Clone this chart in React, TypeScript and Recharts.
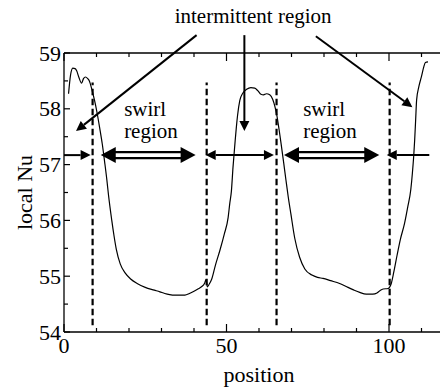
import React from 'react';
import { LineChart, Line, XAxis, YAxis, ReferenceLine, ReferenceDot } from 'recharts';

// Nusselt number profile along the wall
const position = [
  1.4, 2.0, 2.7, 3.4, 3.9, 4.6, 5.4, 6.0, 6.6, 7.3, 7.8, 8.6, 9.4, 10.2, 11.0, 11.8,
  12.5, 13.2, 13.7, 14.7, 15.4, 16.1, 17.3, 18.8, 20.5, 22.5, 25.0, 27.8, 29.5, 31.0,
  32.5, 34.0, 35.5, 37.2, 38.6, 40.0, 41.2, 42.3, 43.3, 43.7, 44.1, 44.7, 45.4, 46.6,
  48.0, 49.3, 50.5, 51.0, 51.5, 52.0, 52.6, 53.0, 53.4, 54.1, 55.0, 56.2, 57.5, 58.7,
  59.7, 60.6, 61.4, 62.3, 63.3, 64.2, 64.9, 65.5, 66.2, 66.9, 67.6, 68.3, 69.0, 69.8,
  71.0, 72.5, 74.1, 76.3, 78.0, 79.7, 82.0, 84.8, 87.0, 88.9, 91.0, 93.0, 95.0, 96.3,
  97.2, 98.2, 99.7, 100.7, 101.5, 102.5, 103.5, 104.8, 105.8, 106.7, 107.2, 107.6,
  107.9, 108.2, 108.5, 109.2, 110.0, 110.7, 111.2, 112.0,
];
const localNu = [
  58.27, 58.6, 58.73, 58.72, 58.68, 58.56, 58.46, 58.54, 58.57, 58.54, 58.5, 58.34, 58.15,
  57.92, 57.65, 57.36, 57.05, 56.72, 56.45, 56.0, 55.72, 55.48, 55.22, 55.06, 54.95, 54.87,
  54.8, 54.75, 54.72, 54.69, 54.67, 54.66, 54.66, 54.66, 54.69, 54.73, 54.77, 54.81, 54.88,
  54.94, 54.81, 54.86, 54.94, 55.2, 55.47, 55.75, 56.05, 56.3, 56.52, 56.95, 57.38, 57.65,
  57.88, 58.15, 58.28, 58.35, 58.38, 58.37, 58.32, 58.26, 58.25, 58.27, 58.25, 58.17, 58.04,
  57.88, 57.62, 57.33, 57.03, 56.72, 56.42, 56.12, 55.68, 55.34, 55.13, 55.02, 54.98, 54.96,
  54.92, 54.87, 54.81, 54.76, 54.71, 54.68, 54.68, 54.7, 54.74, 54.77, 54.78, 54.87, 55.08,
  55.38, 55.66, 55.95, 56.25, 56.55, 56.85, 57.15, 57.44, 57.8, 58.16, 58.4, 58.58, 58.75,
  58.83, 58.84,
];

const xTicks = [0, 10, 20, 30, 40, 50, 60, 70, 80, 90, 100, 110, 120];
const yTicks = [54, 54.5, 55, 55.5, 56, 56.5, 57, 57.5, 58, 58.5, 59];

// region boundaries (dashed) and the arrows drawn between them
const dividers = [8.8, 43.9, 65.4, 100.2];
const dividerSpan = [54.12, 58.47];
const arrowLevel = 57.17;
const thinArrows = [
  { from: 0, to: 8.2, both: false },
  { from: 43.6, to: 64.6, both: true },
  { from: 112.4, to: 99.3, both: false },
];
const swirlArrows = [
  [11.3, 40.5],
  [67.7, 97.0],
];
const pointers = [
  { from: [40.8, 59.32], to: [3.7, 57.6] },
  { from: [55.5, 59.32], to: [55.5, 57.6] },
  { from: [77.5, 59.3], to: [107.2, 58.03] },
];
const titleAt = [58.2, 59.54];
const swirlLabels = [18.5, 73.6];
const swirlRows = [57.87, 57.47];

const data = position.map((x, i) => ({ x, nu: localNu[i] }));

const FONT = "'Liberation Serif', 'Times New Roman', Times, serif";
const txt = { fontFamily: FONT };

function headPoints(tx: number, ty: number, ux: number, uy: number, len: number, half: number) {
  const bx = tx - ux * len;
  const by = ty - uy * len;
  return `${tx},${ty} ${bx - uy * half},${by + ux * half} ${bx + uy * half},${by - ux * half}`;
}

function unit(p: any) {
  const dx = p.x2 - p.x1;
  const dy = p.y2 - p.y1;
  const d = Math.hypot(dx, dy) || 1;
  return [dx / d, dy / d];
}

const makeThinArrow = (both: boolean) => (p: any) => {
  const [ux, uy] = unit(p);
  const len = 10;
  const sx = both ? p.x1 + ux * len : p.x1;
  const sy = both ? p.y1 + uy * len : p.y1;
  return (
    <g>
      <line x1={sx} y1={sy} x2={p.x2 - ux * len} y2={p.y2 - uy * len} stroke="#000" strokeWidth={2} />
      <polygon points={headPoints(p.x2, p.y2, ux, uy, len, 5)} fill="#000" />
      {both && <polygon points={headPoints(p.x1, p.y1, -ux, -uy, len, 5)} fill="#000" />}
    </g>
  );
};

const SwirlArrow = (p: any) => {
  const [ux, uy] = unit(p);
  const len = 15;
  const off = 3;
  const ax = p.x1 + ux * (len - 2);
  const ay = p.y1 + uy * (len - 2);
  const bx = p.x2 - ux * (len - 2);
  const by = p.y2 - uy * (len - 2);
  return (
    <g>
      <line x1={ax - uy * off} y1={ay + ux * off} x2={bx - uy * off} y2={by + ux * off} stroke="#000" strokeWidth={2.3} />
      <line x1={ax + uy * off} y1={ay - ux * off} x2={bx + uy * off} y2={by - ux * off} stroke="#000" strokeWidth={2.3} />
      <polygon points={headPoints(p.x2, p.y2, ux, uy, len, 8)} fill="#000" />
      <polygon points={headPoints(p.x1, p.y1, -ux, -uy, len, 8)} fill="#000" />
    </g>
  );
};

const BottomTick = ({ x, y, payload }: any) => {
  const major = payload.value % 50 === 0;
  return (
    <g>
      <line x1={x} x2={x} y1={y} y2={y - (major ? 8 : 4)} stroke="#000" strokeWidth={1.2} />
      {major && payload.value <= 100 && (
        <text x={x} y={y + 21} textAnchor="middle" fontSize={22} style={txt} fill="#000">
          {payload.value}
        </text>
      )}
    </g>
  );
};

const TopTick = ({ x, y, payload }: any) => {
  const major = payload.value % 50 === 0;
  return <line x1={x} x2={x} y1={y} y2={y + (major ? 8 : 4)} stroke="#000" strokeWidth={1.2} />;
};

const LeftTick = ({ x, y, payload }: any) => {
  const major = Number.isInteger(payload.value);
  return (
    <g>
      <line x1={x} x2={x + (major ? 6 : 4)} y1={y} y2={y} stroke="#000" strokeWidth={1.2} />
      {major && (
        <text x={x - 3} y={y + 7.5} textAnchor="end" fontSize={22} style={txt} fill="#000">
          {payload.value}
        </text>
      )}
    </g>
  );
};

const RightTick = ({ x, y, payload }: any) => {
  const major = Number.isInteger(payload.value);
  return <line x1={x} x2={x - (major ? 7 : 4)} y1={y} y2={y} stroke="#000" strokeWidth={1.2} />;
};

const XTitle = ({ viewBox }: any) => (
  <text
    x={viewBox.x + viewBox.width / 2}
    y={viewBox.y + 50}
    textAnchor="middle"
    fontSize={22}
    style={txt}
    fill="#000"
  >
    position
  </text>
);

const YTitle = ({ viewBox }: any) => {
  const cx = viewBox.x + 24;
  const cy = viewBox.y + viewBox.height / 2;
  return (
    <text
      x={cx}
      y={cy}
      transform={`rotate(-90 ${cx} ${cy})`}
      textAnchor="middle"
      fontSize={22}
      style={txt}
      fill="#000"
    >
      local Nu
    </text>
  );
};

const textShape = (value: string, anchor: 'start' | 'middle') => (p: any) => (
  <text x={p.cx} y={p.cy} textAnchor={anchor} fontSize={21} style={txt} fill="#000">
    {value}
  </text>
);

export default function App() {
  return (
    <div style={{ width: 440, height: 384, overflow: 'hidden', background: '#fff', fontFamily: FONT }}>
      <LineChart width={450} height={384} data={data} margin={{ top: 0, right: 0, bottom: 0, left: 0 }}>
        <XAxis
          dataKey="x"
          type="number"
          domain={[0, 120]}
          ticks={xTicks}
          allowDataOverflow
          height={60}
          tickSize={0}
          tickMargin={0}
          tickLine={false}
          axisLine={{ stroke: '#000', strokeWidth: 1.3 }}
          tick={<BottomTick />}
          interval={0}
          label={<XTitle />}
        />
        <XAxis
          xAxisId="top"
          orientation="top"
          dataKey="x"
          type="number"
          domain={[0, 120]}
          ticks={xTicks}
          allowDataOverflow
          height={45}
          tickSize={0}
          tickMargin={0}
          tickLine={false}
          axisLine={{ stroke: '#000', strokeWidth: 1.3 }}
          tick={<TopTick />}
          interval={0}
        />
        <YAxis
          type="number"
          domain={[54, 59]}
          ticks={yTicks}
          allowDataOverflow
          width={56}
          tickSize={0}
          tickMargin={0}
          tickLine={false}
          axisLine={{ stroke: '#000', strokeWidth: 1.3 }}
          tick={<LeftTick />}
          interval={0}
          label={<YTitle />}
        />
        <YAxis
          yAxisId="right"
          orientation="right"
          type="number"
          domain={[54, 59]}
          ticks={yTicks}
          allowDataOverflow
          width={4}
          tickSize={0}
          tickMargin={0}
          tickLine={false}
          axisLine={{ stroke: '#000', strokeWidth: 1.3 }}
          tick={<RightTick />}
          interval={0}
        />
        {dividers.map((x) => (
          <ReferenceLine
            key={`div-${x}`}
            segment={[{ x, y: dividerSpan[0] }, { x, y: dividerSpan[1] }]}
            stroke="#000"
            strokeWidth={2.2}
            strokeDasharray="6.5 3.5"
          />
        ))}
        <Line
          type="monotone"
          dataKey="nu"
          stroke="#000"
          strokeWidth={1.2}
          dot={false}
          activeDot={false}
          isAnimationActive={false}
        />
        {thinArrows.map((a, i) => (
          <ReferenceLine
            key={`thin-${i}`}
            segment={[{ x: a.from, y: arrowLevel }, { x: a.to, y: arrowLevel }]}
            shape={makeThinArrow(a.both)}
            ifOverflow="visible"
          />
        ))}
        {swirlArrows.map(([a, b], i) => (
          <ReferenceLine
            key={`swirl-${i}`}
            segment={[{ x: a, y: arrowLevel }, { x: b, y: arrowLevel }]}
            shape={SwirlArrow}
            ifOverflow="visible"
          />
        ))}
        {pointers.map((p, i) => (
          <ReferenceLine
            key={`ptr-${i}`}
            segment={[{ x: p.from[0], y: p.from[1] }, { x: p.to[0], y: p.to[1] }]}
            shape={makeThinArrow(false)}
            ifOverflow="visible"
          />
        ))}
        <ReferenceDot x={titleAt[0]} y={titleAt[1]} r={0} ifOverflow="visible" shape={textShape('intermittent region', 'middle')} />
        {swirlLabels.map((x) => (
          <React.Fragment key={`sw-${x}`}>
            <ReferenceDot x={x} y={swirlRows[0]} r={0} ifOverflow="visible" shape={textShape('swirl', 'start')} />
            <ReferenceDot x={x} y={swirlRows[1]} r={0} ifOverflow="visible" shape={textShape('region', 'start')} />
          </React.Fragment>
        ))}
      </LineChart>
    </div>
  );
}
